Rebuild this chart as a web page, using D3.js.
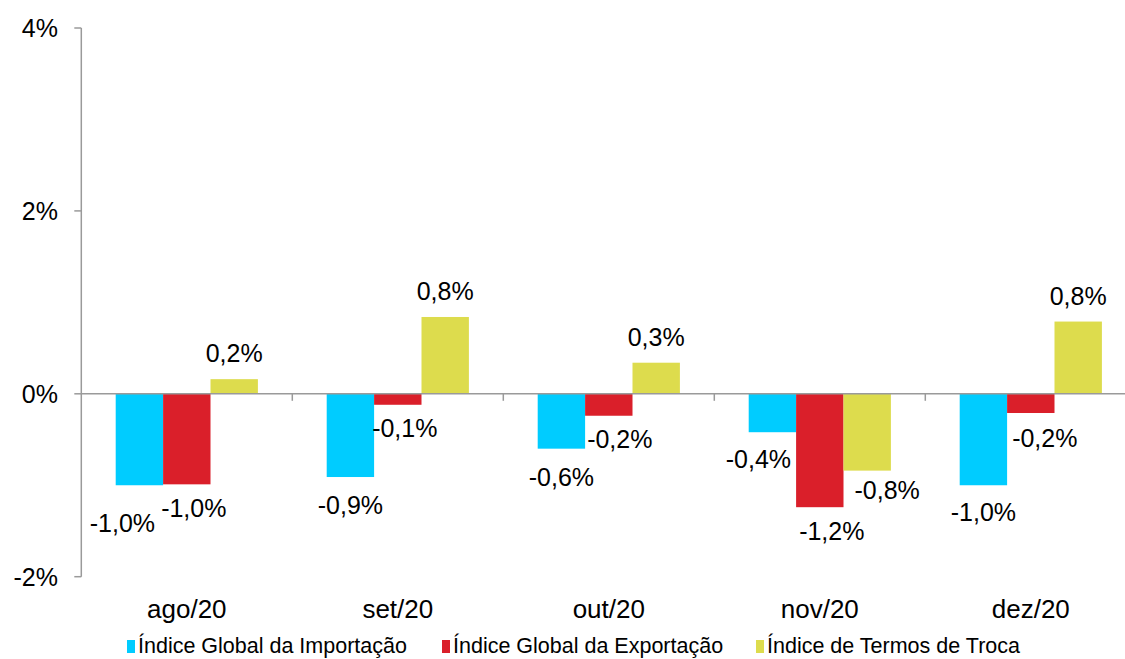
<!DOCTYPE html>
<html lang="pt">
<head>
<meta charset="UTF-8">
<title>Índices de preços do comércio externo</title>
<script src="https://d3js.org/d3.v7.min.js"></script>
<style>
    body { margin: 0; background: #fff; }
    svg { display: block; font-family: "Liberation Sans", Arial, sans-serif; }
    .tick-label { font-size: 25px; fill: #000; }
    .cat-label { font-size: 26px; fill: #000; }
    .data-label { font-size: 25px; fill: #000; }
    .legend-label { font-size: 21.5px; fill: #000; }
</style>
</head>
<body>
<div id="chart"></div>
<script>
    // dados
    const categories = ["ago/20", "set/20", "out/20", "nov/20", "dez/20"];
    const seriesNames = ["Índice Global da Importação", "Índice Global da Exportação", "Índice de Termos de Troca"];
    const importacao = [-1.0, -0.91, -0.60, -0.42, -1.0];
    const exportacao = [-0.99, -0.12, -0.24, -1.24, -0.21];
    const termosTroca = [0.16, 0.84, 0.34, -0.84, 0.79];
    const labelText = [
        ["-1,0%", "-0,9%", "-0,6%", "-0,4%", "-1,0%"],
        ["-1,0%", "-0,1%", "-0,2%", "-1,2%", "-0,2%"],
        ["0,2%", "0,8%", "0,3%", "-0,8%", "0,8%"]
    ];
    const yTicks = [-2, 0, 2, 4];
    const colors = ["#00ccff", "#da1f2a", "#dddc4d"];

    // ajustes dos rótulos (como o Excel evita sobreposições)
    const labelNudge = [
        [[-17, 13], [0, 3], [0, 3], [-14, 2], [0, 2]],
        [[7, -1], [7, -2], [11, -2], [12, -1], [14, 0]],
        [[0, 0], [0, 0], [0, 0], [20, -6], [0, 0]]
    ];

    const values = [importacao, exportacao, termosTroca];

    const width = 1125, height = 659;
    const svg = d3.select("#chart").append("svg")
        .attr("width", width)
        .attr("height", height);

    const x0 = d3.scaleBand()
        .domain(categories)
        .range([81.3, 81.3 + 5 * 211]);

    const x1 = d3.scaleBand()
        .domain(d3.range(3))
        .range([34.4, x0.bandwidth() - 34.4]);

    const y = d3.scaleLinear()
        .domain([-2, 4])
        .range([576.7, 28]);

    // barras
    const groups = svg.selectAll("g.serie")
        .data(values)
        .enter().append("g")
        .attr("class", "serie")
        .attr("fill", (d, i) => colors[i]);

    groups.selectAll("rect")
        .data((d, i) => d.map((v, j) => ({ v, s: i, c: j })))
        .enter().append("rect")
        .attr("x", d => x0(categories[d.c]) + x1(d.s))
        .attr("width", x1.bandwidth())
        .attr("y", d => y(Math.max(0, d.v)))
        .attr("height", d => Math.abs(y(d.v) - y(0)));

    // eixo Y
    const axisColor = "#9a9a9a";
    svg.append("line")
        .attr("x1", x0.range()[0]).attr("x2", x0.range()[0])
        .attr("y1", y(4)).attr("y2", y(-2))
        .attr("stroke", axisColor).attr("stroke-width", 1.5);

    svg.selectAll("line.ytick")
        .data(yTicks)
        .enter().append("line")
        .attr("class", "ytick")
        .attr("x1", x0.range()[0] - 7).attr("x2", x0.range()[0])
        .attr("y1", d => y(d)).attr("y2", d => y(d))
        .attr("stroke", axisColor).attr("stroke-width", 1.5);

    svg.selectAll("text.tick-label")
        .data(yTicks)
        .enter().append("text")
        .attr("class", "tick-label")
        .attr("x", 58)
        .attr("y", d => y(d) + 9)
        .attr("text-anchor", "end")
        .text(d => d + "%");

    // eixo X (na linha do zero)
    svg.append("line")
        .attr("x1", x0.range()[0]).attr("x2", width)
        .attr("y1", y(0)).attr("y2", y(0))
        .attr("stroke", axisColor).attr("stroke-width", 1.5);

    svg.selectAll("line.xtick")
        .data(categories.slice(1))
        .enter().append("line")
        .attr("class", "xtick")
        .attr("x1", d => x0(d)).attr("x2", d => x0(d))
        .attr("y1", y(0)).attr("y2", y(0) + 7)
        .attr("stroke", axisColor).attr("stroke-width", 1.5);

    svg.selectAll("text.cat-label")
        .data(categories)
        .enter().append("text")
        .attr("class", "cat-label")
        .attr("x", d => x0(d) + x0.bandwidth() / 2)
        .attr("y", 618)
        .attr("text-anchor", "middle")
        .text(d => d);

    // rótulos dos valores
    groups.selectAll("text")
        .data((d, i) => d.map((v, j) => ({ v, s: i, c: j })))
        .enter().append("text")
        .attr("class", "data-label")
        .attr("text-anchor", "middle")
        .attr("x", d => x0(categories[d.c]) + x1(d.s) + x1.bandwidth() / 2 + labelNudge[d.s][d.c][0])
        .attr("y", d => (d.v >= 0 ? y(d.v) - 17 : y(d.v) + 34) + labelNudge[d.s][d.c][1])
        .attr("fill", "#000")
        .text(d => labelText[d.s][d.c]);

    // legenda
    const legendX = [127, 442, 756];
    const legend = svg.selectAll("g.legend")
        .data(seriesNames)
        .enter().append("g")
        .attr("class", "legend")
        .attr("transform", (d, i) => `translate(${legendX[i]},0)`);

    legend.append("rect")
        .attr("x", 0).attr("y", 640)
        .attr("width", 8).attr("height", 13)
        .attr("fill", (d, i) => colors[i]);

    legend.append("text")
        .attr("class", "legend-label")
        .attr("x", 11)
        .attr("y", 653)
        .text(d => d);
</script>
</body>
</html>
